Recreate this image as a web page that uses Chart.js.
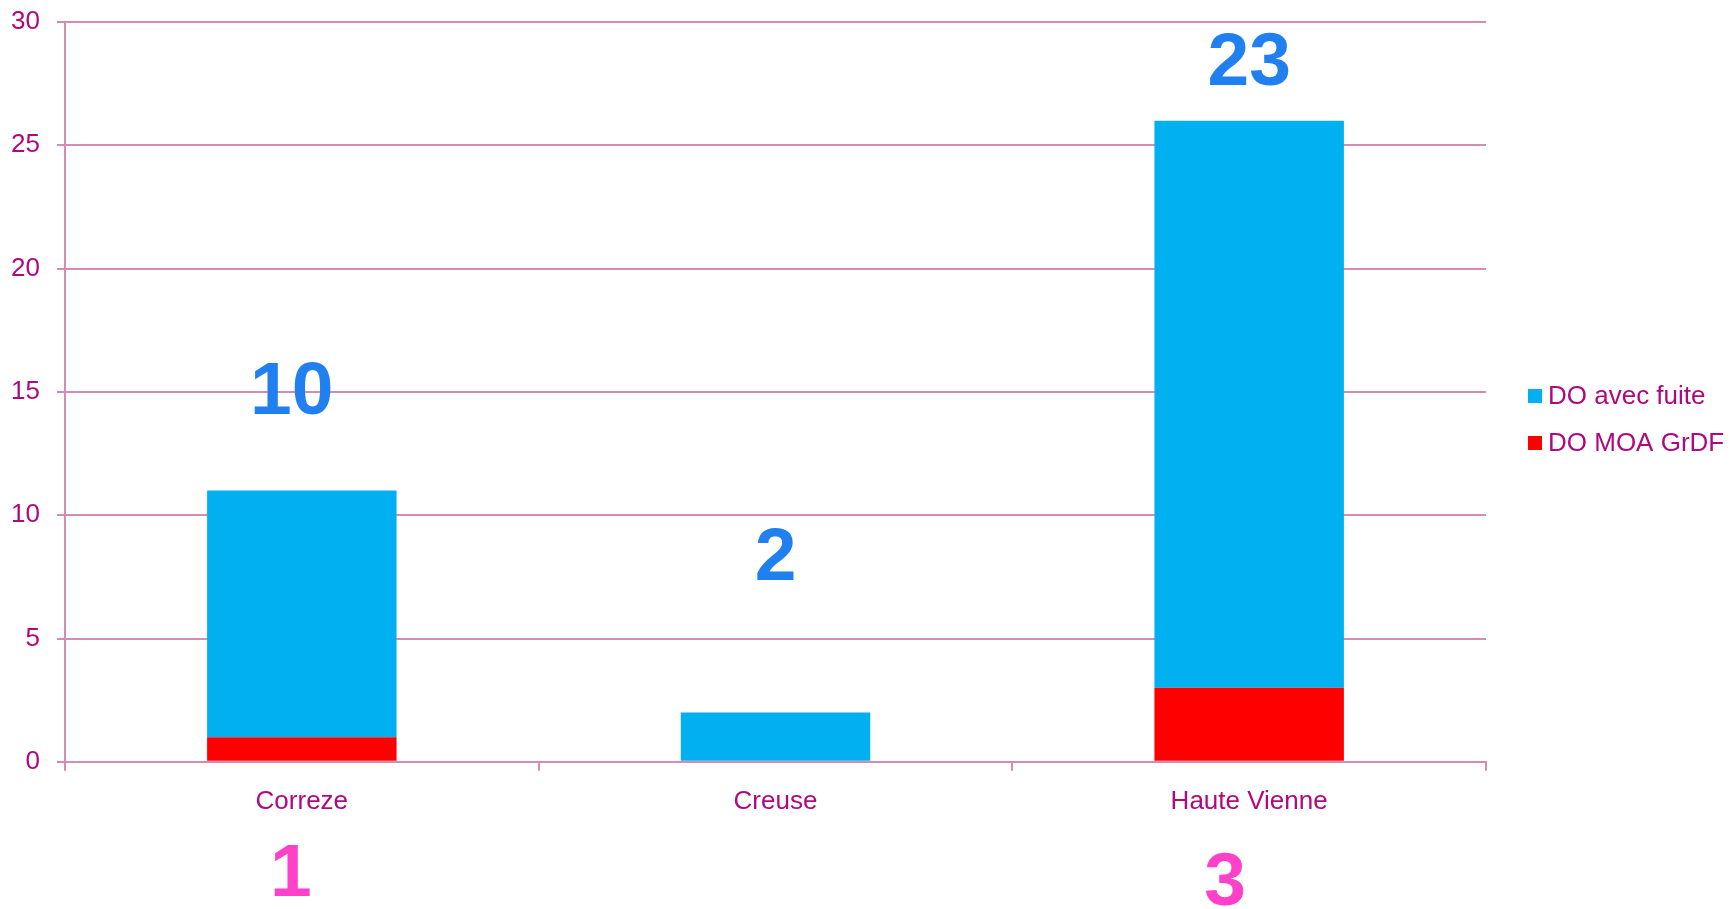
<!DOCTYPE html>
<html>
<head>
<meta charset="utf-8">
<style>
  html, body { margin: 0; padding: 0; background: #fff; }
  #wrap { width: 1730px; height: 909px; }
</style>
<script src="https://cdn.jsdelivr.net/npm/chart.js@4/dist/chart.umd.min.js"></script>
</head>
<body>
<div id="wrap"><canvas id="myChart"></canvas></div>
<script>
// Data
const departements = ['Correze', 'Creuse', 'Haute Vienne'];
const doMoaGrdf = [1, 0, 3];
const doAvecFuite = [10, 2, 23];
const yTicks = [0, 5, 10, 15, 20, 25, 30];

const textColor = '#B0087E';
const gridColor = '#D38DB3';
const font = 'Liberation Sans, Arial, sans-serif';

// Big numbers drawn above / below each column (hand placed in the original)
const bigLabels = {
    id: 'bigLabels',
    afterDatasetsDraw(chart) {
        const { ctx, scales: { x, y } } = chart;
        const topAt = [15.05, 8.35, 28.4];   // value-axis height of the blue numbers
        const topDx = [-10, 0, 0];
        const botDx = [-11, 0, -24];
        const botDy = [111, 0, 120];          // px below the axis
        ctx.save();
        ctx.font = 'bold 75px ' + font;
        ctx.textAlign = 'center';
        ctx.textBaseline = 'middle';
        departements.forEach((d, i) => {
            const cx = x.getPixelForValue(i);
            ctx.fillStyle = '#2080F0';
            ctx.fillText(String(doAvecFuite[i]), cx + topDx[i], y.getPixelForValue(topAt[i]) + 3);
            if (doMoaGrdf[i] > 0) {
                ctx.fillStyle = '#FF40C8';
                ctx.fillText(String(doMoaGrdf[i]), cx + botDx[i], y.bottom + botDy[i] + 3);
            }
        });
        ctx.restore();
    }
};

// Legend on the right, drawn from the datasets (top item = top of stack)
const sideLegend = {
    id: 'sideLegend',
    afterDraw(chart) {
        const { ctx } = chart;
        const sets = chart.data.datasets.slice().reverse();
        ctx.save();
        ctx.font = '26px ' + font;
        ctx.textBaseline = 'middle';
        sets.forEach((ds, i) => {
            const cy = 396 + i * 47;
            ctx.fillStyle = ds.backgroundColor;
            ctx.fillRect(1528, cy - 7, 14, 14);
            ctx.fillStyle = textColor;
            ctx.fillText(ds.label, 1548, cy + 1);
        });
        ctx.restore();
    }
};

const ctx = document.getElementById('myChart').getContext('2d');
const chart = new Chart(ctx, {
    type: 'bar',
    data: {
        labels: departements,
        datasets: [
            { label: 'DO MOA GrDF', data: doMoaGrdf, backgroundColor: '#FF0000' },
            { label: 'DO avec fuite', data: doAvecFuite, backgroundColor: '#00B0F0' }
        ]
    },
    options: {
        responsive: true,
        maintainAspectRatio: false,
        animation: false,
        categoryPercentage: 1,
        barPercentage: 0.4,
        layout: { padding: { left: 12, top: 22, right: 244, bottom: 77 } },
        plugins: {
            legend: { display: false },
            tooltip: { enabled: false }
        },
        scales: {
            x: {
                stacked: true,
                grid: {
                    offset: true,
                    drawOnChartArea: false,
                    drawTicks: true,
                    tickLength: 9,
                    color: gridColor,
                    lineWidth: 2
                },
                border: { color: gridColor, width: 2 },
                ticks: { color: textColor, font: { family: font, size: 26 }, padding: 15 }
            },
            y: {
                stacked: true,
                min: 0,
                max: 30,
                afterBuildTicks: (axis) => { axis.ticks = yTicks.map(v => ({ value: v })); },
                afterFit: (axis) => {
                    axis.width = 53;
                    axis.paddingTop = 0;
                    axis.paddingBottom = 0;
                },
                grid: { color: gridColor, lineWidth: 2, tickLength: 8 },
                border: { color: gridColor, width: 2 },
                ticks: { color: textColor, font: { family: font, size: 26 }, padding: 17 }
            }
        }
    },
    plugins: [bigLabels, sideLegend]
});
</script>
</body>
</html>
